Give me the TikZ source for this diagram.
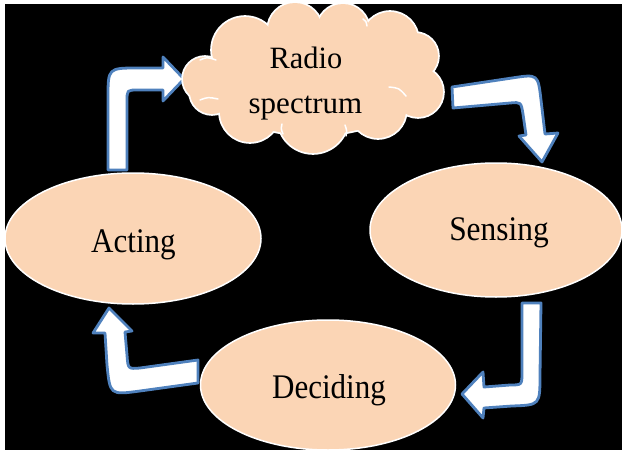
\documentclass[tikz,border=0pt]{standalone}
\usepackage{fontspec}
\setmainfont{Liberation Serif}
\usetikzlibrary{shapes.geometric}
\definecolor{peach}{HTML}{FBD5B5}
\definecolor{arrowblue}{HTML}{4F81BD}
\tikzset{
  oval/.style={ellipse, draw=white, fill=peach, line width=1.5pt, inner sep=0pt},
  bentarrow/.style={draw=arrowblue, fill=white, line width=2.8pt, line join=round},
  puffline/.style={draw=white, line width=3.6pt},
  innerarc/.style={draw=white, line width=1.5pt, line cap=round},
  bigtext/.style={anchor=base, inner sep=0pt, text=black, font=\fontsize{34.5}{40}\selectfont},
  cloudtext/.style={anchor=base, inner sep=0pt, text=black, font=\fontsize{31}{36}\selectfont}
}
\newcommand{\cloudpuffs}[1]{%
  \path[#1] (205,79) circle[radius=22];
  \path[#1] (245,50) circle[radius=33];
  \path[#1] (295,30) circle[radius=27];
  \path[#1] (343,30) circle[radius=26];
  \path[#1] (390,40) circle[radius=28];
  \path[#1] (415,56) circle[radius=23];
  \path[#1] (418,92) circle[radius=25];
  \path[#1] (378,110) circle[radius=28];
  \path[#1] (313,118) circle[radius=35];
  \path[#1] (250,112) circle[radius=30];
  \path[#1] (212,92) circle[radius=22];
  \path[#1] (313,80) ellipse[x radius=105, y radius=55];
}
\begin{document}
\begin{tikzpicture}[x=1pt,y=-1pt]
\useasboundingbox (0,0) rectangle (622,450);
\fill[white] (0,0) rectangle (622,450);
\clip (0,0) rectangle (622,450);
\fill[black] (5,4) rectangle (623,451);

% bent arrows
\draw[bentarrow] (108,170) -- (108,98) .. controls (108,68) .. (138,68) -- (163,68) -- (163,57) -- (184,79) -- (163,101) -- (163,90) -- (138,90) .. controls (127,90) .. (127,101) -- (127,170) -- cycle;
\draw[bentarrow] (452,87) -- (512,78) .. controls (538,74) .. (541,100) -- (545,134) -- (558,133) -- (542,162) -- (519,136) -- (526,135) -- (523,114) .. controls (521,102) .. (510,103) -- (453,108) -- cycle;
\draw[bentarrow] (522,303) -- (541,303) -- (540,375) .. controls (540,405) .. (512,406) -- (484,408) -- (483,418) -- (462,394) -- (483,372) -- (484,387) -- (510,385) .. controls (522,385) .. (522,372) -- cycle;
\draw[bentarrow] (198,360) -- (198,383) -- (140,391) .. controls (110,395) .. (107,365) -- (105,333) -- (93,333) -- (109,308) -- (132,331) -- (125,332) -- (127,355) .. controls (128,369) .. (140,368) -- cycle;

% cloud
\cloudpuffs{puffline}
\cloudpuffs{fill=peach}
\coordinate (cloud) at (313,80);
\draw[innerarc] (200,60) .. controls (207,57) .. (216,60);
\draw[innerarc] (200,100) .. controls (208,97) .. (218,99);
\draw[innerarc] (283,134) .. controls (281,129) .. (282,124);
\draw[innerarc] (346,136) .. controls (347,131) .. (345,125);
\draw[innerarc] (389,87) .. controls (399,88) .. (406,96);
\draw[innerarc] (363,19) .. controls (366,21) .. (367,26);

% ellipses
\node[oval, minimum width=256pt, minimum height=131pt] (acting) at (133,238.5) {};
\node[oval, minimum width=252pt, minimum height=134pt] (sensing) at (496,230) {};
\node[oval, minimum width=255pt, minimum height=130pt] (deciding) at (328,385) {};

% texts
\node[cloudtext] (tradio) at (306,68) {\scalebox{0.98}[1]{Radio}};
\node[cloudtext] (tspec) at (305.5,113) {spectrum};
\node[bigtext] (tsens) at (499,240) {\scalebox{0.91}[1]{Sensing}};
\node[bigtext] (tact) at (133.5,252) {\scalebox{0.9}[1]{Acting}};
\node[bigtext] (tdec) at (329,398) {\scalebox{0.9}[1]{Deciding}};
\end{tikzpicture}
\end{document}
